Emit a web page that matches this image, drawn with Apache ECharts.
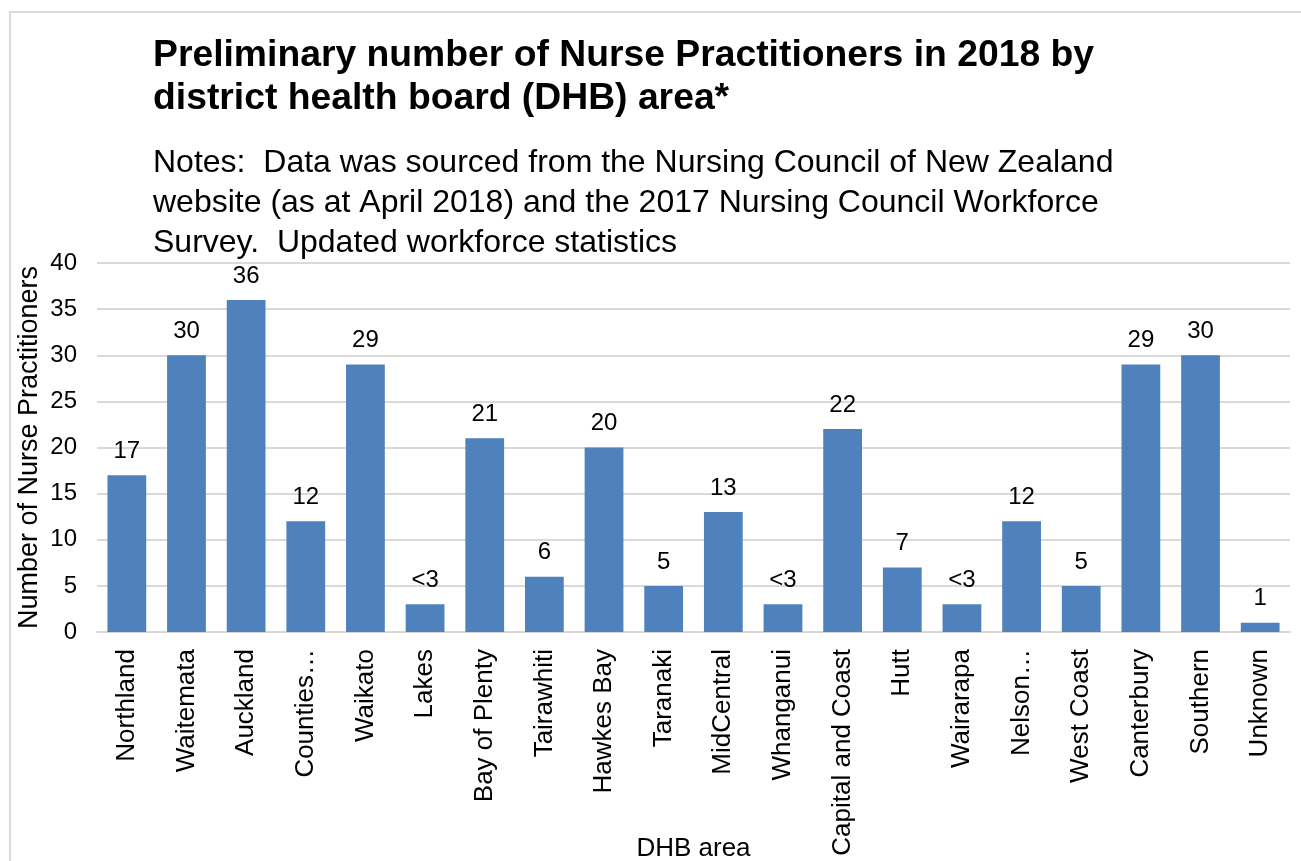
<!DOCTYPE html>
<html>
<head>
<meta charset="utf-8">
<script src="https://cdn.jsdelivr.net/npm/echarts@6/dist/echarts.min.js"></script>
<style>
html,body{margin:0;padding:0;background:#fff;}
#chart{width:1301px;height:861px;}
</style>
</head>
<body>
<div id="chart"></div>
<script>
var categories = ["Northland","Waitemata","Auckland","Counties…","Waikato","Lakes","Bay of Plenty","Tairawhiti","Hawkes Bay","Taranaki","MidCentral","Whanganui","Capital and Coast","Hutt","Wairarapa","Nelson…","West Coast","Canterbury","Southern","Unknown"];
var values = [17,30,36,12,29,3,21,6,20,5,13,3,22,7,3,12,5,29,30,1];
var valueLabels = ["17","30","36","12","29","<3","21","6","20","5","13","<3","22","7","<3","12","5","29","30","1"];
var yTicks = [0,5,10,15,20,25,30,35,40];

var font = "Liberation Sans, Arial, sans-serif";
var chart = echarts.init(document.getElementById('chart'));
chart.setOption({
  backgroundColor: '#ffffff',
  animation: false,
  title: [{
    text: 'Preliminary number of Nurse Practitioners in 2018 by\ndistrict health board (DHB) area*',
    left: 153, top: 34, padding: 0,
    textStyle: {fontFamily: font, fontSize: 37.3, fontWeight: 'bold', color: '#000', lineHeight: 43}
  },{
    text: 'Notes:  Data was sourced from the Nursing Council of New Zealand\nwebsite (as at April 2018) and the 2017 Nursing Council Workforce\nSurvey.  Updated workforce statistics',
    left: 153, top: 143, padding: 0,
    textStyle: {fontFamily: font, fontSize: 32, fontWeight: 'normal', color: '#000', lineHeight: 40}
  }],
  graphic: [{
    type: 'rect', silent: true, z: -1,
    shape: {x: 10, y: 12, width: 1400, height: 1000},
    style: {fill: 'none', stroke: '#d9d9d9', lineWidth: 2}
  }],
  grid: {left: 97, right: 11, top: 263, bottom: 229, containLabel: false, outerBoundsMode: 'none'},
  xAxis: {
    type: 'category',
    data: categories,
    name: 'DHB area',
    nameLocation: 'middle',
    nameGap: 204,
    nameMoveOverlap: false,
    nameTextStyle: {fontFamily: font, fontSize: 26, color: '#000'},
    axisLine: {lineStyle: {color: '#d9d9d9', width: 2}},
    axisTick: {show: false},
    axisLabel: {rotate: 90, margin: 17, interval: 0, fontFamily: font, fontSize: 26, color: '#000'}
  },
  yAxis: {
    type: 'value',
    min: 0, max: 40, interval: 5,
    name: 'Number of Nurse Practitioners',
    nameLocation: 'middle',
    nameGap: 54,
    nameMoveOverlap: false,
    nameTextStyle: {fontFamily: font, fontSize: 27, color: '#000'},
    axisLine: {show: false},
    axisTick: {show: false},
    splitLine: {lineStyle: {color: '#d9d9d9', width: 2}},
    axisLabel: {margin: 20, fontFamily: font, fontSize: 24, color: '#000',
      customValues: yTicks}
  },
  series: [{
    type: 'bar',
    data: values,
    barCategoryGap: '35%',
    itemStyle: {color: '#4f81bd'},
    label: {
      show: true, position: 'top', distance: 12,
      fontFamily: font, fontSize: 24, color: '#000',
      formatter: function(p){ return valueLabels[p.dataIndex]; }
    }
  }]
});
</script>
</body>
</html>
